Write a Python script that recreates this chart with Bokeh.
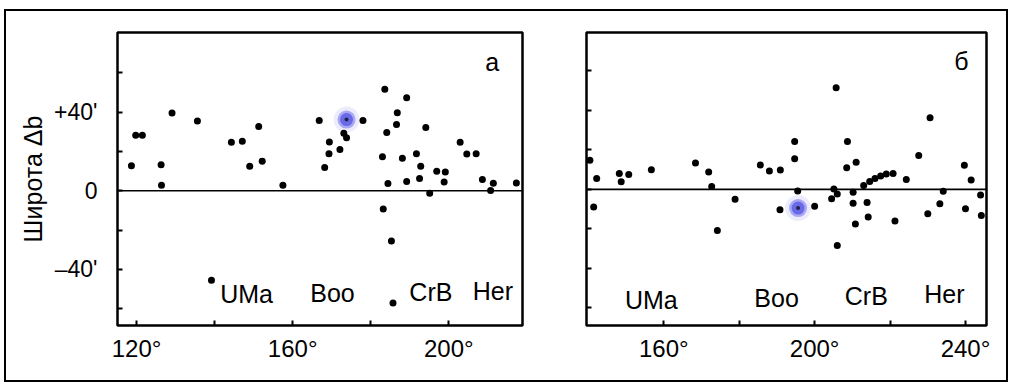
from bokeh.plotting import figure
from bokeh.models import Span, FixedTicker, Range1d
from bokeh.layouts import row
from bokeh.embed import file_html
from bokeh.resources import INLINE
from bokeh.core.properties import value

# ---------------- data ----------------
# panel "а": galactic longitude (deg) and latitude offset (arcmin)
a_lon = [118.7, 119.8, 121.5, 126.3, 126.4, 129.1, 135.6, 144.3, 147.1, 151.3,
         149.0, 152.2, 157.5, 166.8, 169.4, 169.3, 168.2, 172.1, 173.1, 173.8,
         178.0, 183.6, 189.2, 186.8, 186.6, 184.1, 194.1, 183.0, 188.1, 191.7,
         192.8, 196.9, 199.1, 184.4, 189.2, 192.5, 198.8, 195.1, 202.9, 204.6,
         207.0, 208.6, 211.4, 210.7, 217.3, 183.2, 185.3, 139.2, 185.7]
a_lat = [12.7, 28.2, 28.2, 13.2, 2.8, 39.5, 35.5, 24.7, 25.2, 32.7,
         12.5, 15.0, 2.8, 35.7, 24.8, 18.8, 11.8, 21.0, 29.3, 27.0,
         35.7, 51.7, 47.3, 39.7, 33.7, 29.7, 32.2, 17.3, 16.5, 18.8,
         12.5, 10.0, 9.5, 3.7, 4.7, 6.2, 4.5, -1.3, 24.7, 18.7,
         18.8, 5.7, 3.8, 0.2, 4.0, -9.3, -25.5, -45.5, -57.0]
a_hl_lon = [173.8]
a_hl_lat = [36.2]

# panel "б"
b_lon = [140.4, 142.2, 141.4, 148.2, 148.7, 150.7, 156.7, 168.4, 171.9, 172.7,
         178.9, 174.2, 185.6, 188.0, 190.9, 190.8, 194.7, 194.7, 195.5, 200.0,
         205.7, 208.7, 211.0, 208.5, 227.6, 230.6, 239.7, 241.5, 224.3, 213.0,
         214.6, 216.0, 217.5, 219.0, 220.8, 205.1, 206.0, 204.5, 210.2, 210.2,
         213.9, 214.2, 210.8, 221.3, 234.1, 233.2, 230.0, 240.0, 244.0, 244.2,
         206.0]
b_lat = [14.8, 5.5, -9.0, 8.0, 3.8, 7.5, 10.0, 13.3, 8.8, 1.5,
         -5.0, -20.8, 12.3, 9.3, 9.8, -10.3, 24.3, 15.5, -0.8, -8.5,
         51.5, 24.2, 13.8, 11.0, 17.2, 36.3, 12.2, 4.7, 5.0, 2.0,
         4.0, 5.5, 6.8, 7.8, 8.0, 0.2, -2.3, -4.8, -1.5, -7.0,
         -6.7, -14.0, -17.5, -16.0, -1.0, -7.3, -12.3, -9.8, -2.8, -13.2,
         -28.5]
b_hl_lon = [195.6]
b_hl_lat = [-9.5]

names = ["UMa", "Boo", "CrB", "Her"]
a_name_lon = [148.2, 170.2, 195.4, 211.3]
a_name_lat = [-52.5, -51.8, -51.5, -51.0]
b_name_lon = [156.7, 189.9, 213.7, 234.4]
b_name_lat = [-56.0, -55.0, -54.0, -53.0]

a_xticks = [120, 140, 160, 180, 200]
a_xlabels = {120: "120°", 140: "", 160: "160°", 180: "", 200: "200°"}
b_xticks = [160, 180, 200, 220, 240]
b_xlabels = {160: "160°", 180: "", 200: "200°", 220: "", 240: "240°"}
yticks = [-60, -40, -20, 0, 20, 40, 60]
a_ylabels = {-60: "", -40: "–40'", -20: "", 0: "0", 20: "", 40: "+40'", 60: ""}
b_ylabels = {t: "" for t in yticks}

FONT = "Liberation Sans"


def panel(width, mb, xr, yr, xticks, xlabels, ylabels, lon, lat, hl_lon, hl_lat,
          nlon, nlat, letter, letter_pos, ylabel=None):
    p = figure(width=width, height=369, output_backend="svg", toolbar_location=None,
               x_range=Range1d(*xr), y_range=Range1d(*yr),
               min_border_left=mb[0], min_border_right=mb[1],
               min_border_top=mb[2], min_border_bottom=mb[3])
    p.grid.visible = False
    p.outline_line_color = "black"
    p.outline_line_width = 2.5
    p.background_fill_color = "white"
    p.border_fill_color = "white"
    for ax in (p.xaxis[0], p.yaxis[0]):
        ax.axis_line_color = None
        ax.major_tick_in = 5
        ax.major_tick_out = 0
        ax.major_tick_line_width = 2
        ax.minor_tick_line_color = None
        ax.major_label_text_font = FONT
        ax.major_label_text_color = "black"
    p.xaxis.major_label_text_font_size = "24px"
    p.yaxis.major_label_text_font_size = "23px"
    p.xaxis.ticker = FixedTicker(ticks=xticks)
    p.xaxis.major_label_overrides = xlabels
    p.xaxis.major_label_standoff = 9
    p.yaxis.ticker = FixedTicker(ticks=yticks)
    p.yaxis.major_label_overrides = ylabels
    p.yaxis.major_label_standoff = 20
    if ylabel:
        p.yaxis.axis_label = ylabel
        p.yaxis.axis_label_text_font = FONT
        p.yaxis.axis_label_text_font_size = "25px"
        p.yaxis.axis_label_text_font_style = "normal"
        p.yaxis.axis_label_text_color = "black"
        p.yaxis.axis_label_standoff = 4
    p.add_layout(Span(location=0, dimension="width", line_color="black", line_width=1.6))
    # highlighted star (blue glow)
    p.scatter(hl_lon, hl_lat, size=26, color="#7070f0", alpha=0.13, line_color=None)
    p.scatter(hl_lon, hl_lat, size=18, color="#6464ec", alpha=0.5, line_color=None)
    p.scatter(hl_lon, hl_lat, size=13, color="#5a5ae6", alpha=0.8, line_color=None)
    p.scatter(lon, lat, size=7, color="black", line_color=None)
    p.scatter(hl_lon, hl_lat, size=4, color="#222244", line_color=None)
    p.text(x=nlon, y=nlat, text=names, text_font=value(FONT), text_font_size="25px",
           text_align="center", text_baseline="middle", text_color="black")
    p.text(x=[letter_pos[0]], y=[letter_pos[1]], text=[letter], text_font=value(FONT),
           text_font_size="25px", text_align="center", text_baseline="middle",
           text_color="black")
    return p


pa = panel(549, (111, 33, 21, 50), (115.13, 218.87), (-68.5, 80.5), a_xticks, a_xlabels,
           a_ylabels, a_lon, a_lat, a_hl_lon, a_hl_lat, a_name_lon, a_name_lat,
           "а", (211.1, 65.6), ylabel="Широта Δb")
pb = panel(451, (31, 20, 17, 55), (139.50, 245.57), (-69.0, 79.5), b_xticks, b_xlabels,
           b_ylabels, b_lon, b_lat, b_hl_lon, b_hl_lat, b_name_lon, b_name_lat,
           "б", (238.9, 65.2))

layout = row(pa, pb, margin=(9, 0, 0, 4), styles={"border": "2px solid black"})

open("out.html", "w").write(file_html(layout, INLINE))
